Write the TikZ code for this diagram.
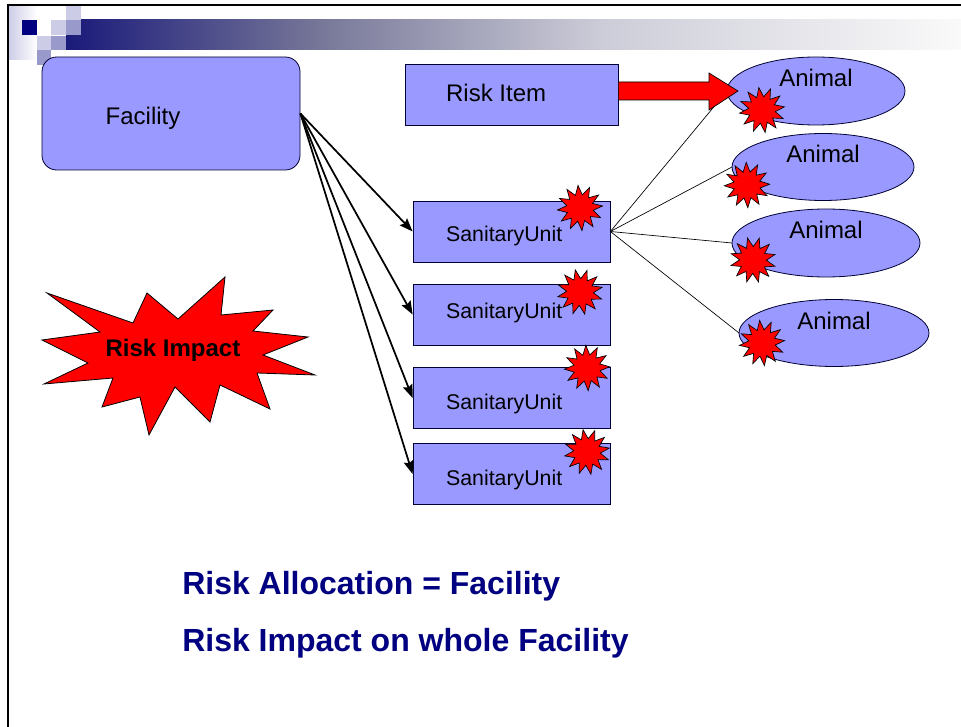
\documentclass[tikz,border=0pt]{standalone}
\usepackage{fontspec}
\setmainfont{Liberation Sans}
\usetikzlibrary{shapes.geometric,arrows.meta,calc}
\definecolor{boxblue}{HTML}{9999FF}
\definecolor{navytxt}{HTML}{000080}
\definecolor{lightsq}{HTML}{CCCCE6}
\definecolor{medsq}{HTML}{9999CC}
\definecolor{gA}{HTML}{1A1A7A}
\definecolor{gB}{HTML}{777799}
\definecolor{gC}{HTML}{CCCCD8}
\definecolor{gD}{HTML}{FAFAFA}
\tikzset{
  boxstyle/.style={draw=black!80!blue, line width=0.6pt, fill=boxblue, inner sep=0pt},
  rectbox/.style={boxstyle, rectangle},
  animalbox/.style={boxstyle, ellipse},
  burst/.style={star, star points=12, star point ratio=1.7, draw=black, line width=0.5pt, fill=red, minimum size=34pt, inner sep=0pt},
  bigarrow/.style={-{Stealth[length=10pt,width=7.5pt,inset=1.5pt]}, line width=1.3pt, black},
  thinline/.style={line width=0.5pt, black},
  lbl/.style={font=\fontsize{18}{20}\selectfont},
  sulbl/.style={font=\fontsize{16}{18}\selectfont},
  bottomtxt/.style={font=\fontsize{24}{28}\selectfont\bfseries, text=navytxt, inner sep=0pt, anchor=base west}
}
\begin{document}
\begin{tikzpicture}[x=0.75pt,y=-0.75pt]
\useasboundingbox (0,0) rectangle (961,727);
\fill[white] (0,0) rectangle (961,727);
% header decoration
\shade[left color=lightsq, right color=white] (8,5) rectangle (37,60);
\shade[left color=gA, right color=gB] (66,20) rectangle (320,50);
\shade[left color=gB, right color=gC] (319.5,20) rectangle (600,50);
\shade[left color=gC, right color=gD] (599.5,20) rectangle (961,50);
\fill[lightsq] (66,6) rectangle (81,20);
\fill[navytxt] (22,20) rectangle (37,35);
\fill[lightsq] (51,20) rectangle (66,35);
\fill[medsq] (66,20) rectangle (81,35);
\fill[lightsq] (37,36) rectangle (51,50);
\fill[medsq] (51,36) rectangle (66,50);
\fill[medsq] (37,50) rectangle (51,65);
% frame
\draw[line width=1.6pt] (8,727) -- (8,5) -- (961,5);

% nodes
\node[rectbox, rounded corners=11pt, minimum width=193.5pt, minimum height=84.75pt,
      label={[lbl, xshift=-21pt, yshift=-3.5pt]center:Facility}] (fac) at (171,113.5) {};
\node[rectbox, minimum width=159.75pt, minimum height=45.75pt,
      label={[lbl, xshift=-11.5pt, yshift=1pt]center:Risk Item}] (ri) at (511.5,94.5) {};

\node[rectbox, minimum width=147.75pt, minimum height=45.75pt,
      label={[sulbl, xshift=-5.5pt, yshift=-3.5pt]center:SanitaryUnit}] (su1) at (511.5,231.5) {};
\node[rectbox, minimum width=147.75pt, minimum height=45.75pt,
      label={[sulbl, xshift=-5.5pt, yshift=1pt]center:SanitaryUnit}] (su2) at (511.5,314.5) {};
\node[rectbox, minimum width=147.75pt, minimum height=45.75pt,
      label={[sulbl, xshift=-5.5pt, yshift=-4.5pt]center:SanitaryUnit}] (su3) at (511.5,398) {};
\node[rectbox, minimum width=147.75pt, minimum height=45.75pt,
      label={[sulbl, xshift=-5.5pt, yshift=-4.5pt]center:SanitaryUnit}] (su4) at (511.5,474) {};

% thin connectors to animals (drawn beneath)
\coordinate (a1w) at (727,91);
\coordinate (a2w) at (732,167);
\coordinate (a3w) at (732,243);
\coordinate (a4w) at (739,333);
\draw[thinline] (su1.east) -- (a1w);
\draw[thinline] (su1.east) -- (a2w);
\draw[thinline] (su1.east) -- (a3w);
\draw[thinline] (su1.east) -- (a4w);

\node[animalbox, minimum width=133.5pt, minimum height=51pt,
      label={[lbl, yshift=9.5pt]center:Animal}] (an1) at (816,91) {};
\node[animalbox, minimum width=136.5pt, minimum height=50.25pt,
      label={[lbl, yshift=9.5pt]center:Animal}] (an2) at (823,167) {};
\node[animalbox, minimum width=141pt, minimum height=51pt,
      label={[lbl, yshift=10pt]center:Animal}] (an3) at (826,243) {};
\node[animalbox, minimum width=142.5pt, minimum height=50.25pt,
      label={[lbl, yshift=9pt]center:Animal}] (an4) at (834,333) {};

% red block arrow
\draw[fill=red, draw=black, line width=0.5pt]
  (ri.east |- 0,82) -- (709,82) -- (709,73) -- (738,91) -- (709,110) -- (709,100) -- (ri.east |- 0,100) -- cycle;

% bursts
\node[burst, rotate=5] (b1) at (580,208) {};
\node[burst, rotate=12] (b2) at (580,292) {};
\node[burst, rotate=3] (b3) at (587,368) {};
\node[burst, rotate=10] (b4) at (587,452) {};
\node[burst, rotate=8] (b5) at (762,110) {};
\node[burst, rotate=2] (b6) at (747,185) {};
\node[burst, rotate=14] (b7) at (753,260) {};
\node[burst, rotate=6] (b8) at (762,343) {};

% facility arrows
\draw[bigarrow] (fac.east) -- (su1.west);
\draw[bigarrow] (fac.east) -- (su2.west);
\draw[bigarrow] (fac.east) -- (su3.west);
\draw[bigarrow] (fac.east) -- (su4.west);

% big risk impact explosion
\draw[fill=red, draw=black, line width=0.6pt]
  (47,293) -- (133,323) -- (147,293) -- (178,319) -- (225,277) -- (221,315) --
  (273,310) -- (253,331) -- (308,337) -- (263,355) -- (315,375) -- (257,373) --
  (270,409) -- (220,385) -- (210,422) -- (175,387) -- (149,435) -- (140,397) --
  (102,407) -- (113,378) -- (44,384) -- (88,363) -- (42,340) -- (100,332) -- cycle;
\node[font=\fontsize{18}{20}\selectfont\bfseries] (impact) at (173,350) {Risk Impact};

% bottom text
\node[bottomtxt] (alloc) at (182,594) {Risk Allocation = Facility};
\node[bottomtxt] (whole) at (182,651) {Risk Impact on whole Facility};
\end{tikzpicture}
\end{document}
